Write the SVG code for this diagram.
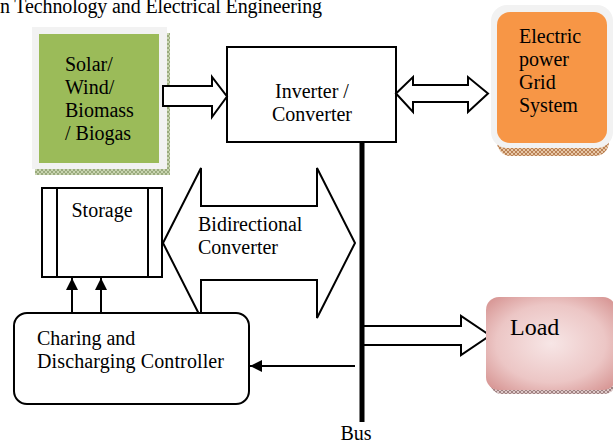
<svg xmlns="http://www.w3.org/2000/svg" width="613" height="444" viewBox="0 0 613 444">
<style>
text{font-family:"Liberation Serif","Times New Roman",serif;font-size:20px;fill:#000}
.ln{fill:none;stroke:#000;stroke-width:2}
.wf{fill:#fff;stroke:#000;stroke-width:2;stroke-linejoin:miter}
</style>
<defs>
<pattern id="hg" width="4" height="4" patternUnits="userSpaceOnUse"><rect width="4" height="4" fill="#c8d4b0"/><path d="M0 0L4 4M4 0L0 4" stroke="#8ea070" stroke-width="0.8"/></pattern>
<pattern id="ho" width="4" height="4" patternUnits="userSpaceOnUse"><rect width="4" height="4" fill="#e8c8a8"/><path d="M0 0L4 4M4 0L0 4" stroke="#b07040" stroke-width="0.8"/></pattern>
<pattern id="hp" width="4" height="4" patternUnits="userSpaceOnUse"><rect width="4" height="4" fill="#ddc8c8"/><path d="M0 0L4 4M4 0L0 4" stroke="#907070" stroke-width="0.8"/></pattern>
<radialGradient id="pk" cx="0.5" cy="0.5" r="0.7">
<stop offset="0" stop-color="#f7e6e6"/><stop offset="0.6" stop-color="#ecc6c5"/><stop offset="1" stop-color="#d48f8d"/></radialGradient>
<marker id="ah" markerWidth="12" markerHeight="12" refX="12" refY="6" orient="auto" markerUnits="userSpaceOnUse"><path d="M0 0L12 6L0 12z" fill="#000"/></marker>
</defs>

<text x="0" y="13" textLength="322">n Technology and Electrical Engineering</text>

<g id="source">
<rect x="35" y="33" width="135" height="142" fill="url(#hg)"/>
<rect x="32" y="27" width="135" height="142" fill="#f2f2f2"/>
<rect x="39" y="34" width="120" height="129" fill="#9bbb59"/>
<text x="65" y="71">Solar/</text>
<text x="65" y="94">Wind/</text>
<text x="65" y="117">Biomass</text>
<text x="65" y="140">/ Biogas</text>
</g>

<g id="inverter">
<rect x="227" y="47" width="169" height="95" class="wf"/>
<text x="312" y="98" text-anchor="middle">Inverter /</text>
<text x="312" y="121" text-anchor="middle">Converter</text>
</g>

<g id="grid">
<rect x="497" y="20" width="112" height="136" rx="14" fill="url(#ho)"/>
<rect x="491" y="5" width="122" height="143" rx="16" fill="#f2f2f2"/>
<rect x="497" y="12" width="110" height="131" rx="13" fill="#f79646"/>
<text x="519" y="43">Electric</text>
<text x="519" y="66">power</text>
<text x="519" y="89">Grid</text>
<text x="519" y="112">System</text>
</g>

<g id="storage">
<rect x="42" y="188" width="120" height="89" class="wf"/>
<line x1="57" y1="188" x2="57" y2="277" class="ln"/>
<line x1="148" y1="188" x2="148" y2="277" class="ln"/>
<text x="102" y="217" text-anchor="middle">Storage</text>
</g>

<g id="connectors">
<path d="M163 86H212V77L227 96.5L212 117V106H163z" class="wf"/>
<path d="M396 93.5L413 77V85H468V77L488 93.5L468 112V102H413V112z" class="wf"/>
<path d="M163 243L201 168V206H317V168L355 243L317 318V280H201V318z" class="wf"/>
<path d="M363 326H461V316L490 335.5L461 355V345H363" class="wf"/>
<line x1="72" y1="313" x2="72" y2="278" class="ln" marker-end="url(#ah)"/>
<line x1="101" y1="313" x2="101" y2="278" class="ln" marker-end="url(#ah)"/>
<line x1="355" y1="366" x2="250" y2="366" class="ln" marker-end="url(#ah)"/>
<rect x="359.5" y="142" width="5" height="280" fill="#000"/>
</g>

<g id="bidirectional">
<text x="198" y="231">Bidirectional</text>
<text x="198" y="254">Converter</text>
</g>

<g id="controller">
<rect x="14" y="313" width="235" height="91" rx="13" class="wf"/>
<text x="37" y="345">Charing and</text>
<text x="37" y="368" textLength="187">Discharging Controller</text>
</g>

<g id="load">
<rect x="490" y="303" width="126" height="91" rx="12" fill="url(#hp)"/>
<rect x="486" y="297" width="130" height="93" rx="13" fill="url(#pk)"/>
<text x="510" y="335" style="font-size:24px">Load</text>
</g>

<g id="bus">
<text x="356" y="440" text-anchor="middle">Bus</text>
</g>
</svg>
